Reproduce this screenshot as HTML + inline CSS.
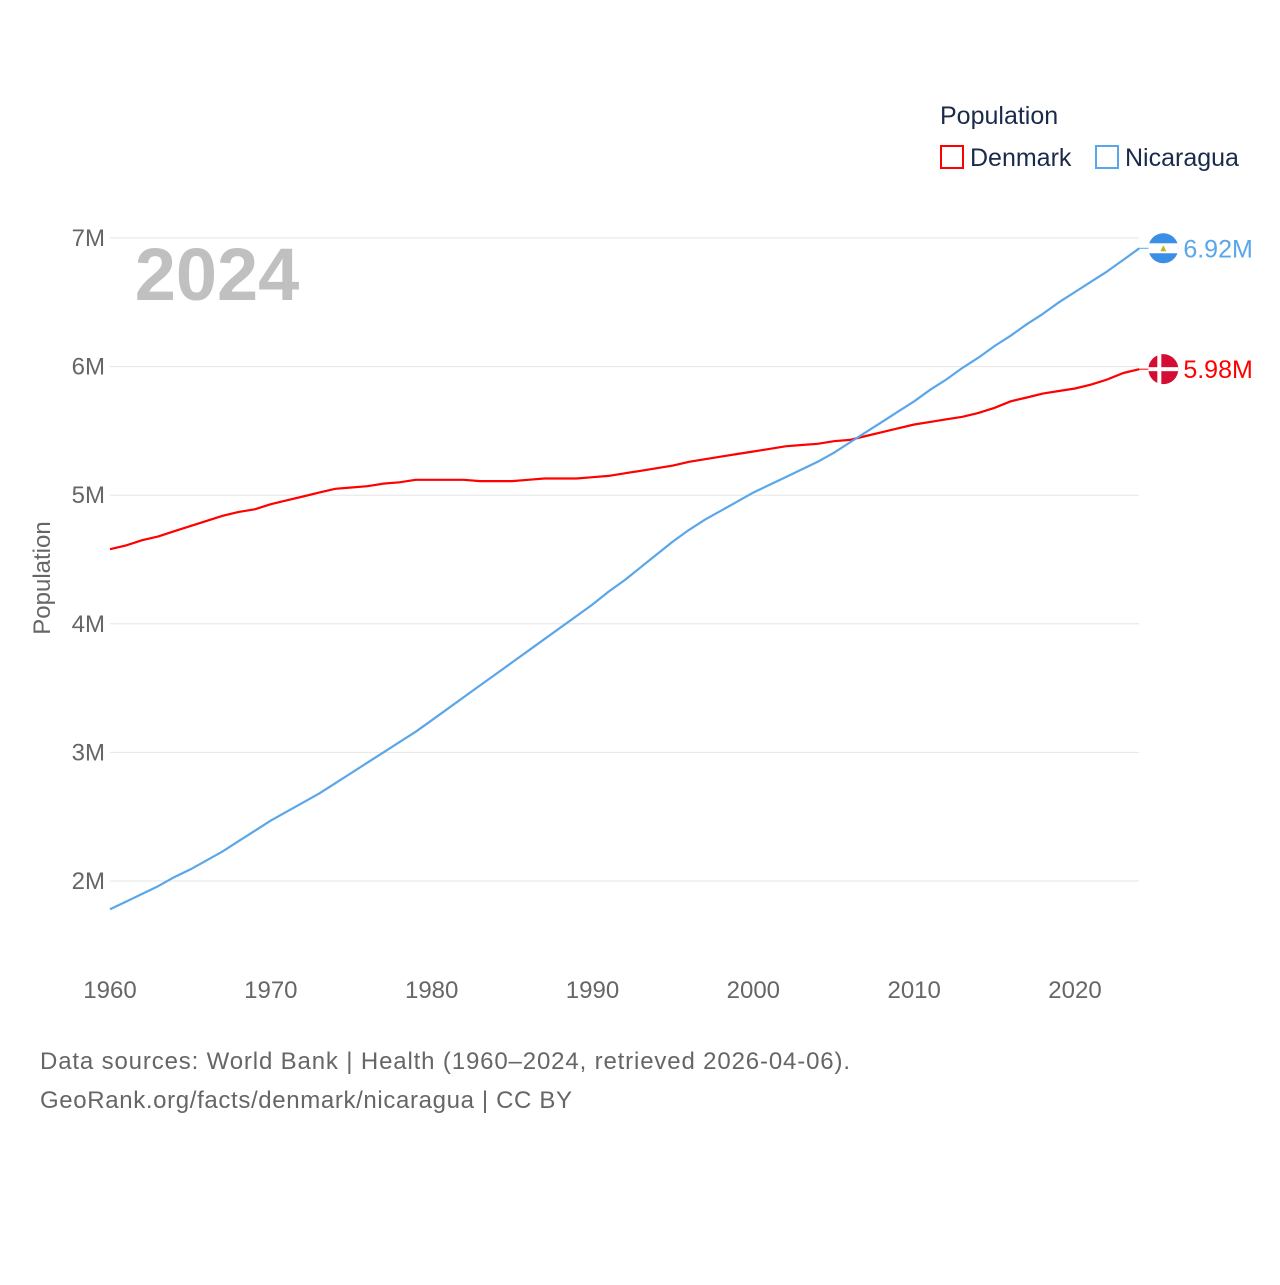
<!DOCTYPE html>
<html><head><meta charset="utf-8">
<style>
body{margin:0;background:#fff;font-family:"Liberation Sans",sans-serif;}
svg text{font-family:"Liberation Sans",sans-serif;}
</style></head>
<body>
<svg id="chart" width="1280" height="1280" viewBox="0 0 1280 1280">
  <g id="grid"></g>
  <g id="yticks"></g>
  <g id="xticks"></g>
  <text x="217" y="300" font-size="74" font-weight="bold" fill="#c0c0c0" text-anchor="middle">2024</text>
  <text transform="translate(50,578) rotate(-90)" font-size="24" fill="#666" text-anchor="middle">Population</text>
  <g id="lines"></g>
  <g>
    <text x="940" y="124" font-size="25" fill="#1a2b4a">Population</text>
    <g>
      <rect x="941" y="146" width="22" height="22" fill="none" stroke="#ff0000" stroke-width="2"/>
      <text x="970" y="166" font-size="25" fill="#1a2b4a">Denmark</text>
    </g>
    <g>
      <rect x="1096" y="146" width="22" height="22" fill="none" stroke="#5aa6ea" stroke-width="2"/>
      <text x="1125" y="166" font-size="25" fill="#1a2b4a">Nicaragua</text>
    </g>
  </g>
  <text x="40" y="1069" font-size="24" fill="#666" textLength="810">Data sources: World Bank | Health (1960–2024, retrieved 2026-04-06).</text>
  <text x="40" y="1108" font-size="24" fill="#666" textLength="532">GeoRank.org/facts/denmark/nicaragua | CC BY</text>
</svg>
<script>
const years=[];for(let y=1960;y<=2024;y++)years.push(y);
const denmark=[4.58,4.61,4.65,4.68,4.72,4.76,4.80,4.84,4.87,4.89,4.93,4.96,4.99,5.02,5.05,5.06,5.07,5.09,5.10,5.12,5.12,5.12,5.12,5.11,5.11,5.11,5.12,5.13,5.13,5.13,5.14,5.15,5.17,5.19,5.21,5.23,5.26,5.28,5.30,5.32,5.34,5.36,5.38,5.39,5.40,5.42,5.43,5.46,5.49,5.52,5.55,5.57,5.59,5.61,5.64,5.68,5.73,5.76,5.79,5.81,5.83,5.86,5.90,5.95,5.98];
const nicaragua=[1.78,1.84,1.90,1.96,2.03,2.09,2.16,2.23,2.31,2.39,2.47,2.54,2.61,2.68,2.76,2.84,2.92,3.00,3.08,3.16,3.25,3.34,3.43,3.52,3.61,3.70,3.79,3.88,3.97,4.06,4.15,4.25,4.34,4.44,4.54,4.64,4.73,4.81,4.88,4.95,5.02,5.08,5.14,5.20,5.26,5.33,5.41,5.49,5.57,5.65,5.73,5.82,5.90,5.99,6.07,6.16,6.24,6.33,6.41,6.50,6.58,6.66,6.74,6.83,6.92];
const yTicks=[2,3,4,5,6,7];
const xTicks=[1960,1970,1980,1990,2000,2010,2020];
const NS='http://www.w3.org/2000/svg';
const X=y=>110+(y-1960)*(1075-110)/60;
const Y=v=>238+(7-v)*(881-238)/5;
function mk(t,a,p){const e=document.createElementNS(NS,t);for(const k in a)e.setAttribute(k,a[k]);p.appendChild(e);return e;}
const grid=document.getElementById('grid'),yt=document.getElementById('yticks'),xt=document.getElementById('xticks'),ln=document.getElementById('lines');
yTicks.forEach(v=>{
  const l=mk('line',{x1:110,x2:1139,y1:Y(v),y2:Y(v),stroke:'#e6e6e6','stroke-width':1},grid);
  
  
  const t=mk('text',{x:105,y:Y(v)+8,'font-size':24,fill:'#666','text-anchor':'end'},yt);
  t.textContent=v+'M';
  
  
});
xTicks.forEach(v=>{
  const t=mk('text',{x:X(v),y:998,'font-size':24,fill:'#666','text-anchor':'middle'},xt);
  t.textContent=v;
  
  
});
function series(vals,color,name,label,flag){
  const d=vals.map((v,i)=>(i?'L':'M')+X(years[i]).toFixed(1)+','+Y(v).toFixed(1)).join('');
  const p=mk('path',{d:d,fill:'none',stroke:color,'stroke-width':2.2,'stroke-linejoin':'round'},ln);
  
  
  const last=vals[vals.length-1],ly=Y(last),lx=X(years[years.length-1]);
  mk('line',{x1:lx,x2:lx+10,y1:ly,y2:ly,stroke:color,'stroke-width':1},ln);
  const g=mk('g',{},ln);
  
  
  flag(g,lx+24,ly);
  const t=mk('text',{x:lx+44,y:ly+9,'font-size':25,fill:color},ln);
  t.textContent=label;
  
  
}
series(denmark,'#ff0000','denmark','5.98M',(g,cx,cy)=>{
  mk('circle',{cx:cx,cy:cy,r:15,fill:'#d50c33'},g);
  mk('rect',{x:cx-6,y:cy-15,width:4,height:30,fill:'#fff'},g);
  mk('rect',{x:cx-15,y:cy-2,width:30,height:4,fill:'#fff'},g);
});
series(nicaragua,'#5aa6ea','nicaragua','6.92M',(g,cx,cy)=>{
  mk('circle',{cx:cx,cy:cy,r:15,fill:'#3a8ee6'},g);
  mk('rect',{x:cx-15,y:cy-5,width:30,height:10,fill:'#fff'},g);
  mk('polygon',{points:`${cx-3},${cy+3} ${cx+3},${cy+3} ${cx},${cy-3}`,fill:'#c9b21a'},g);
});
</script>
</body></html>
